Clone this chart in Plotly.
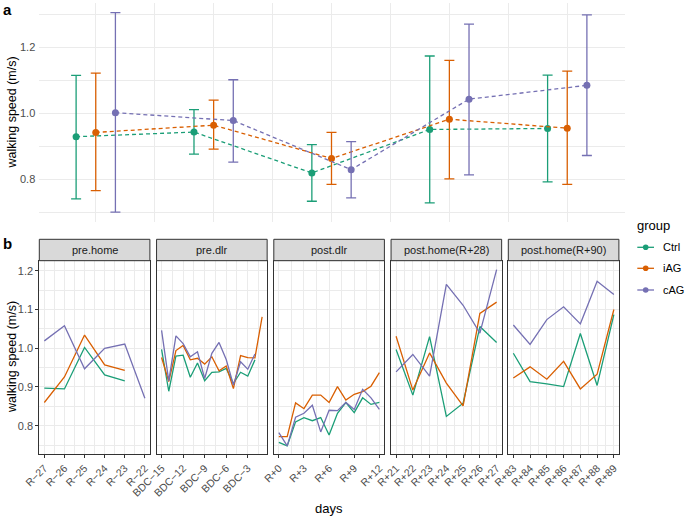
import plotly.graph_objects as go

W, H = 685, 518
def px(x): return x / W
def py(y): return 1 - y / H

groups = ["Ctrl", "iAG", "cAG"]
colors = {"Ctrl": "#1B9E77", "iAG": "#D95F02", "cAG": "#7570B3"}
phases = ["pre.home", "pre.dlr", "post.dlr", "post.home(R+28)", "post.home(R+90)"]

# ---- panel a: mean and error range per phase ----
mean_ctrl = [0.929, 0.943, 0.819, 0.951, 0.954]
hi_ctrl = [1.115, 1.011, 0.905, 1.174, 1.116]
lo_ctrl = [0.740, 0.876, 0.733, 0.728, 0.792]
mean_iag = [0.942, 0.964, 0.863, 0.982, 0.955]
hi_iag = [1.122, 1.040, 0.942, 1.161, 1.128]
lo_iag = [0.765, 0.891, 0.784, 0.801, 0.784]
mean_cag = [1.002, 0.978, 0.829, 1.043, 1.085]
hi_cag = [1.306, 1.102, 0.914, 1.271, 1.299]
lo_cag = [0.700, 0.852, 0.743, 0.813, 0.872]

# ---- panel b: daily values per phase ----
days_prehome = [-27, -26, -25, -24, -23, -22]
prehome_ctrl = [0.897, 0.895, 1.002, 0.931, 0.916, None]
prehome_iag = [0.860, 0.926, 1.034, 0.957, 0.943, None]
prehome_cag = [1.019, 1.058, 0.947, 1.000, 1.011, 0.871]

days_predlr = [-15, -14, -13, -12, -11, -10, -9, -8, -7, -6, -5, -4, -3, -2, -1]
predlr_ctrl = [0.997, 0.889, 0.980, 0.982, 0.925, 0.962, 0.916, 0.938, 0.939, 0.948, 0.909, 0.938, 0.928, 0.970, None]
predlr_iag = [0.976, 0.914, 0.994, 1.007, 0.970, 0.974, 0.959, 0.978, 0.942, 0.954, 0.896, 0.981, 0.976, 0.975, 1.081]
predlr_cag = [1.046, 0.916, 1.032, 1.012, 0.978, 0.991, 0.922, 0.987, 1.015, 0.971, 0.905, 0.965, 0.946, 0.985, None]

days_postdlr = [0, 1, 2, 3, 4, 5, 6, 7, 8, 9, 10, 11, 12]
postdlr_ctrl = [0.757, 0.748, 0.810, 0.821, 0.813, 0.821, 0.776, 0.832, 0.860, 0.834, 0.872, 0.855, 0.860]
postdlr_iag = [0.772, 0.772, 0.859, 0.844, 0.879, 0.879, 0.860, 0.901, 0.866, 0.881, 0.888, 0.902, 0.937]
postdlr_cag = [0.782, 0.748, 0.822, 0.832, 0.853, 0.784, 0.840, 0.839, 0.860, 0.842, 0.894, 0.872, 0.842]

days_post28 = [21, 22, 23, 24, 25, 26, 27]
post28_ctrl = [0.997, 0.879, 1.030, 0.824, 0.858, 1.056, 1.015]
post28_iag = [1.031, 0.892, 0.988, 0.910, 0.851, 1.090, 1.119]
post28_cag = [0.939, 0.984, 0.928, 1.165, 1.111, 1.039, 1.203]

days_post90 = [83, 84, 85, 86, 87, 88, 89]
post90_ctrl = [0.987, 0.914, 0.908, 0.901, 1.038, 0.904, 1.087]
post90_iag = [0.923, 0.952, 0.920, 0.966, 0.895, 0.933, 1.100]
post90_cag = [1.060, 1.010, 1.074, 1.107, 1.063, 1.173, 1.139]

# tick labels of panel b
ticks_prehome = ([-27, -26, -25, -24, -23, -22], ["R−27", "R−26", "R−25", "R−24", "R−23", "R−22"])
ticks_predlr = ([-15, -12, -9, -6, -3], ["BDC−15", "BDC−12", "BDC−9", "BDC−6", "BDC−3"])
ticks_postdlr = ([0, 3, 6, 9, 12], ["R+0", "R+3", "R+6", "R+9", "R+12"])
ticks_post28 = (days_post28, ["R+21", "R+22", "R+23", "R+24", "R+25", "R+26", "R+27"])
ticks_post90 = (days_post90, ["R+83", "R+84", "R+85", "R+86", "R+87", "R+88", "R+89"])

means = {"Ctrl": mean_ctrl, "iAG": mean_iag, "cAG": mean_cag}
his = {"Ctrl": hi_ctrl, "iAG": hi_iag, "cAG": hi_cag}
los = {"Ctrl": lo_ctrl, "iAG": lo_iag, "cAG": lo_cag}
offsets = {"Ctrl": -1 / 6, "iAG": 0.0, "cAG": 1 / 6}

panels_b = [
    (days_prehome, {"Ctrl": prehome_ctrl, "iAG": prehome_iag, "cAG": prehome_cag}, ticks_prehome, [i + 0.5 for i in range(-27, -22)]),
    (days_predlr, {"Ctrl": predlr_ctrl, "iAG": predlr_iag, "cAG": predlr_cag}, ticks_predlr, [-13.5, -10.5, -7.5, -4.5, -1.5]),
    (days_postdlr, {"Ctrl": postdlr_ctrl, "iAG": postdlr_iag, "cAG": postdlr_cag}, ticks_postdlr, [1.5, 4.5, 7.5, 10.5]),
    (days_post28, {"Ctrl": post28_ctrl, "iAG": post28_iag, "cAG": post28_cag}, ticks_post28, [i + 0.5 for i in range(21, 27)]),
    (days_post90, {"Ctrl": post90_ctrl, "iAG": post90_iag, "cAG": post90_cag}, ticks_post90, [i + 0.5 for i in range(83, 89)]),
]

FONT = "Liberation Sans, Arial, Helvetica, sans-serif"
GRID = "#EBEBEB"
TXT = "#4D4D4D"

fig = go.Figure()

# panel a traces
cats = list(range(1, len(phases) + 1))
for g in groups:
    c = colors[g]
    xs = [k + offsets[g] for k in cats]
    m = means[g]
    fig.add_trace(go.Scatter(
        x=xs, y=m, mode="lines+markers", name=g, showlegend=False,
        line=dict(color=c, width=1.3, dash="4px,3px"),
        marker=dict(size=7, color=c),
        error_y=dict(type="data", symmetric=False,
                     array=[h - v for h, v in zip(his[g], m)],
                     arrayminus=[v - l for l, v in zip(los[g], m)],
                     color=c, thickness=1.3, width=5),
        xaxis="x", yaxis="y"))

# panel b traces
for i, (days, vals, _, _) in enumerate(panels_b):
    for g in groups:
        fig.add_trace(go.Scatter(
            x=days, y=vals[g], mode="lines", name=g, showlegend=False,
            line=dict(color=colors[g], width=1.3),
            xaxis=f"x{i + 2}", yaxis=f"y{i + 2}"))

layout = dict(
    width=W, height=H, margin=dict(l=0, r=0, t=0, b=0, pad=0, autoexpand=False),
    paper_bgcolor="white", plot_bgcolor="white",
    font=dict(family=FONT, color="black"),
    showlegend=False,
)

layout["xaxis"] = dict(
    domain=[px(39.3), px(625)], range=[0.521, 5.49], anchor="y", automargin=False,
    tickvals=cats, showticklabels=False, ticks="",
    showgrid=True, gridcolor=GRID, gridwidth=1, zeroline=False, showline=False,
    minor=dict(tickvals=[1.5, 2.5, 3.5, 4.5], showgrid=True, gridcolor=GRID, gridwidth=0.6))
layout["yaxis"] = dict(
    domain=[py(222), py(3)], range=[0.670, 1.335], anchor="x", automargin=False,
    tickvals=[0.8, 1.0, 1.2], ticktext=["0.8", "1.0", "1.2"],
    tickfont=dict(size=11, color=TXT), ticks="", ticklabelstandoff=3,
    showgrid=True, gridcolor=GRID, gridwidth=1, zeroline=False, showline=False,
    minor=dict(tickvals=[0.7, 0.9, 1.1, 1.3], showgrid=True, gridcolor=GRID, gridwidth=0.6))

shapes = []
annotations = []
left0, step, pw = 39.3, 117.25, 110.6
strip_top, panel_top, panel_bot = 239.3, 260.7, 454.0
for i, (days, vals, (tv, tt), minor_x) in enumerate(panels_b):
    l = left0 + step * i
    r = l + pw
    lo, hi = min(days), max(days)
    pad = (hi - lo) * 0.05
    k = i + 2
    layout[f"xaxis{k}"] = dict(
        domain=[px(l), px(r)], range=[lo - pad, hi + pad], anchor=f"y{k}", automargin=False,
        tickvals=tv, ticktext=tt, tickangle=-45,
        tickfont=dict(size=10.5, color=TXT),
        ticks="outside", ticklen=3, tickcolor="#333333", tickwidth=1,
        showline=True, mirror=True, linecolor="#333333", linewidth=1,
        showgrid=True, gridcolor=GRID, gridwidth=1, zeroline=False,
        minor=dict(tickvals=minor_x, showgrid=True, gridcolor=GRID, gridwidth=0.6))
    layout[f"yaxis{k}"] = dict(
        domain=[py(panel_bot), py(panel_top)], range=[0.727, 1.226], anchor=f"x{k}", automargin=False,
        tickvals=[0.8, 0.9, 1.0, 1.1, 1.2], ticktext=["0.8", "0.9", "1.0", "1.1", "1.2"],
        showticklabels=(i == 0), tickfont=dict(size=11, color=TXT),
        ticks="outside" if i == 0 else "", ticklen=3, tickcolor="#333333", tickwidth=1,
        showline=True, mirror=True, linecolor="#333333", linewidth=1,
        showgrid=True, gridcolor=GRID, gridwidth=1, zeroline=False,
        minor=dict(tickvals=[0.75, 0.85, 0.95, 1.05, 1.15], showgrid=True, gridcolor=GRID, gridwidth=0.6))
    shapes.append(dict(type="rect", xref="paper", yref="paper",
                       x0=px(l), x1=px(r), y0=py(panel_top), y1=py(strip_top),
                       fillcolor="#D9D9D9", line=dict(color="#333333", width=1)))
    annotations.append(dict(text=phases[i], xref="paper", yref="paper",
                            x=px((l + r) / 2), y=py((strip_top + panel_top) / 2),
                            xanchor="center", yanchor="middle", showarrow=False,
                            font=dict(size=11, color="#1A1A1A")))

# legend (drawn by hand, ggplot style)
annotations.append(dict(text="group", xref="paper", yref="paper", x=px(635), y=py(225),
                        xanchor="left", yanchor="middle", showarrow=False,
                        font=dict(size=13, color="black")))
for g, yy in zip(groups, [247.3, 268.3, 290.0]):
    c = colors[g]
    shapes.append(dict(type="line", xref="paper", yref="paper",
                       x0=px(637.3), x1=px(654), y0=py(yy), y1=py(yy),
                       line=dict(color=c, width=1.3)))
    rr = 2.8
    shapes.append(dict(type="circle", xref="paper", yref="paper",
                       x0=px(645.7 - rr), x1=px(645.7 + rr), y0=py(yy + rr), y1=py(yy - rr),
                       fillcolor=c, line=dict(color=c, width=0)))
    annotations.append(dict(text=g, xref="paper", yref="paper", x=px(661), y=py(yy),
                            xanchor="left", yanchor="middle", showarrow=False,
                            font=dict(size=11, color="black")))

# titles and panel letters
annotations += [
    dict(text="<b>a</b>", xref="paper", yref="paper", x=px(1), y=py(10), xanchor="left",
         yanchor="middle", showarrow=False, font=dict(size=15, color="black")),
    dict(text="<b>b</b>", xref="paper", yref="paper", x=px(1), y=py(243), xanchor="left",
         yanchor="middle", showarrow=False, font=dict(size=15, color="black")),
    dict(text="walking speed (m/s)", xref="paper", yref="paper", x=px(12), y=py(112.5),
         xanchor="center", yanchor="middle", textangle=-90, showarrow=False,
         font=dict(size=12.5, color="black")),
    dict(text="walking speed (m/s)", xref="paper", yref="paper", x=px(12), y=py(357),
         xanchor="center", yanchor="middle", textangle=-90, showarrow=False,
         font=dict(size=12.5, color="black")),
    dict(text="days", xref="paper", yref="paper", x=px(329), y=py(508),
         xanchor="center", yanchor="middle", showarrow=False,
         font=dict(size=13, color="black")),
]

layout["shapes"] = shapes
layout["annotations"] = annotations
fig.update_layout(**layout)
fig.write_html("out.html", config={"displayModeBar": False},
               post_script="document.body.style.margin='0px';")
